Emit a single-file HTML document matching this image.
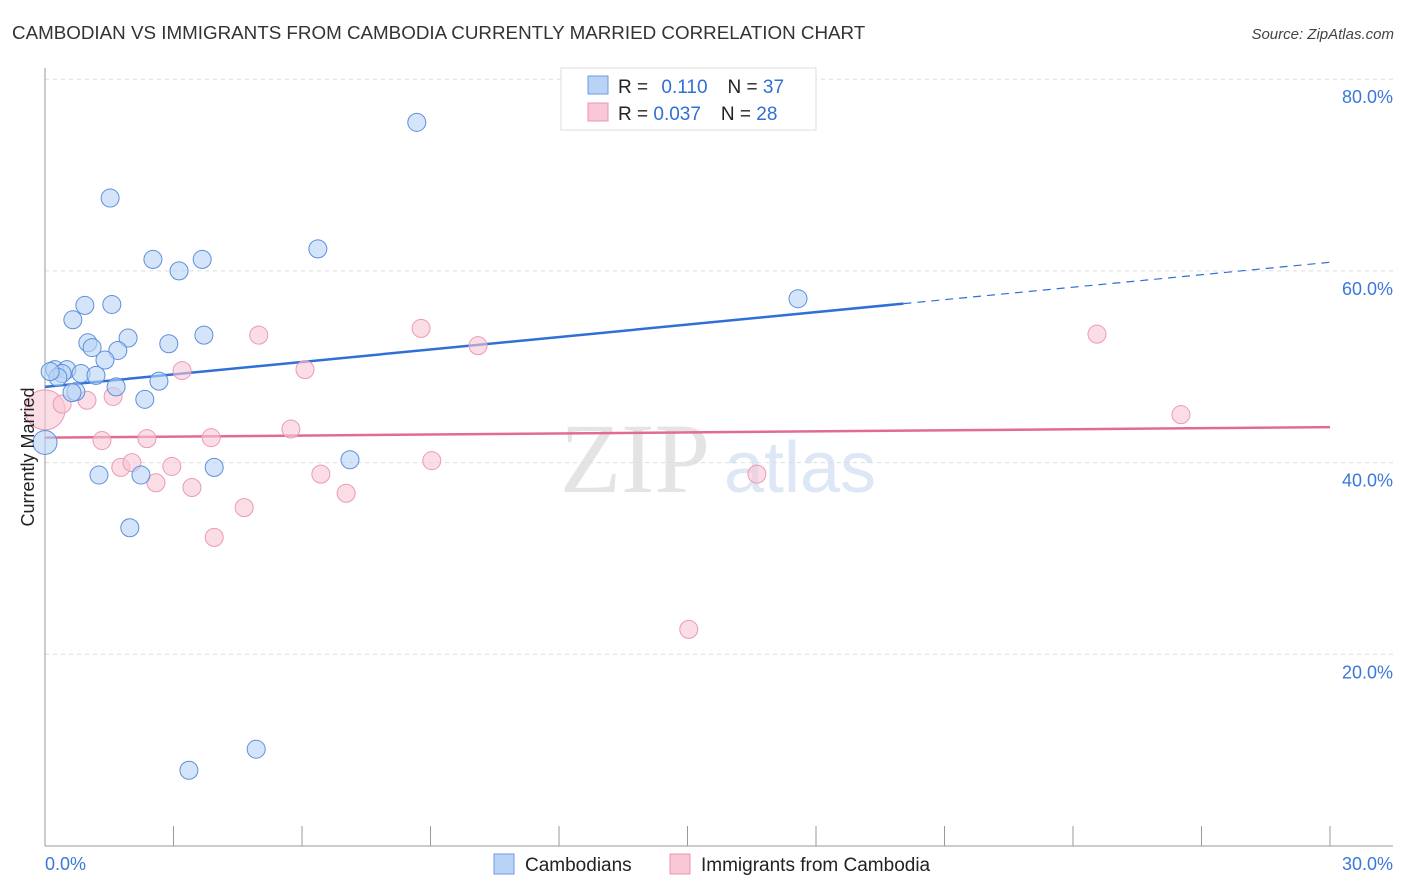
<!DOCTYPE html>
<html><head><meta charset="utf-8"><style>
body{margin:0;background:#fff;font-family:"Liberation Sans",sans-serif;}
svg{display:block}
</style></head><body>
<svg id="chart" width="1406" height="892" xmlns="http://www.w3.org/2000/svg">
<text x="12" y="39" font-size="18.8" fill="#333">CAMBODIAN VS IMMIGRANTS FROM CAMBODIA CURRENTLY MARRIED CORRELATION CHART</text>
<text x="1394" y="39" font-size="15" fill="#444" font-style="italic" text-anchor="end">Source: ZipAtlas.com</text>
<text x="635" y="492" font-size="100" fill="#e4e4e4" font-family="Liberation Serif" text-anchor="middle">ZIP</text>
<text x="800" y="492" font-size="72" fill="#dde7f5" text-anchor="middle">atlas</text>
<g id="grid"></g><g id="axes"></g><g id="trends"></g><g id="points"></g>
<text transform="translate(34,457) rotate(-90)" font-size="18" fill="#222" text-anchor="middle">Currently Married</text>
<g>
<rect x="561" y="68" width="255" height="62" fill="#fff" stroke="#ddd"/>
<rect x="588" y="76" width="20" height="18" fill="#b8d3f5" stroke="#6f9be0"/>
<text x="618" y="93" font-size="19" fill="#222">R = <tspan fill="#2f6fd6" dx="8">0.110</tspan><tspan dx="20" fill="#222">N = </tspan><tspan fill="#2f6fd6">37</tspan></text>
<rect x="588" y="103" width="20" height="18" fill="#f9c7d6" stroke="#e996b0"/>
<text x="618" y="120" font-size="19" fill="#222">R = <tspan fill="#2f6fd6">0.037</tspan><tspan dx="20" fill="#222">N = </tspan><tspan fill="#2f6fd6">28</tspan></text>
</g>
<g>
<rect x="494" y="854" width="20" height="20" fill="#b8d3f5" stroke="#6f9be0"/>
<text x="525" y="871" font-size="19" fill="#222">Cambodians</text>
<rect x="670" y="854" width="20" height="20" fill="#f9c7d6" stroke="#e996b0"/>
<text x="701" y="871" font-size="19" fill="#222">Immigrants from Cambodia</text>
</g>
</svg>
<script>
const blueX=[8.68,1.52,6.37,2.52,3.67,3.13,17.58,0.93,1.56,0.65,1.94,3.71,2.89,1.00,1.10,1.70,1.40,0.23,0.51,0.40,0.84,0.30,1.19,2.66,1.66,0.72,2.33,0,3.95,7.12,1.26,2.24,1.98,4.93,3.36,0.12,0.63];
const blueY=[75.5,67.6,62.3,61.2,61.2,60.0,57.1,56.4,56.5,54.9,53.0,53.3,52.4,52.5,52.0,51.7,50.7,49.7,49.7,49.3,49.3,48.9,49.1,48.5,47.9,47.4,46.6,42.1,39.5,40.3,38.7,38.7,33.2,10.1,7.9,49.5,47.3];
const pinkX=[0,0.40,0.98,1.59,3.20,4.99,6.07,8.78,10.11,24.56,26.52,1.33,2.38,3.88,5.74,1.77,2.03,2.96,2.59,3.43,6.44,9.03,7.03,16.62,4.65,3.95,15.03];
const pinkY=[45.5,46.1,46.5,46.9,49.6,53.3,49.7,54.0,52.2,53.4,45.0,42.3,42.5,42.6,43.5,39.5,40.0,39.6,37.9,37.4,38.8,40.2,36.8,38.8,35.3,32.2,22.6];
const yTicks=[20,40,60,80];
const xTicks=[0,3,6,9,12,15,18,21,24,27,30];
const blueTrend=[47.9,60.9];
const pinkTrend=[42.6,43.7];
const NS="http://www.w3.org/2000/svg";
const X=v=>45+v/30*1285, Y=v=>846-v/20*191.7;
function mk(tag,attrs,parent){const e=document.createElementNS(NS,tag);for(const k in attrs)e.setAttribute(k,attrs[k]);parent.appendChild(e);return e;}
const grid=document.getElementById('grid'),axes=document.getElementById('axes'),trends=document.getElementById('trends'),pts=document.getElementById('points');
yTicks.forEach(t=>{
 const l=mk('line',{x1:45,x2:1393,y1:Y(t),y2:Y(t),stroke:'#ddd','stroke-dasharray':'4,4'},grid);
 
 
 const tx=mk('text',{x:1393,y:Y(t)+24,'font-size':18,fill:'#3a78d8','text-anchor':'end'},grid);
 tx.textContent=t.toFixed(1)+'%';
 
 
});
const yl=mk('line',{x1:45,x2:45,y1:68,y2:846,stroke:'#999'},axes);


const xl=mk('line',{x1:45,x2:1393,y1:846,y2:846,stroke:'#999'},axes);


xTicks.forEach(t=>{
 const l=mk('line',{x1:X(t),x2:X(t),y1:826,y2:846,stroke:'#999'},axes);
 
 
});
[[0,'start'],[30,'end']].forEach(([t,a])=>{
 const tx=mk('text',{x:t===0?45:1393,y:870,'font-size':18,fill:'#3a78d8','text-anchor':a},axes);
 tx.textContent=t.toFixed(1)+'%';
 
 
});
const bx=20.04, by=blueTrend[0]+(blueTrend[1]-blueTrend[0])*bx/30;
const b1=mk('line',{x1:X(0),y1:Y(blueTrend[0]),x2:X(bx),y2:Y(by),stroke:'#2f6fd6','stroke-width':2.5},trends);


const b2=mk('line',{x1:X(bx),y1:Y(by),x2:X(30),y2:Y(blueTrend[1]),stroke:'#2f6fd6','stroke-width':1.2,'stroke-dasharray':'8,6'},trends);


const p1=mk('line',{x1:X(0),y1:Y(pinkTrend[0]),x2:X(30),y2:Y(pinkTrend[1]),stroke:'#e26b96','stroke-width':2.5},trends);


pinkX.forEach((x,i)=>{
 const c=mk('circle',{cx:X(x),cy:Y(pinkY[i]),r:(x===0?20:9),fill:'#f9c7d6','fill-opacity':0.6,stroke:'#ec9ab4','stroke-width':1},pts);
 
 
});
blueX.forEach((x,i)=>{
 const c=mk('circle',{cx:X(x),cy:Y(blueY[i]),r:(x===0?12:9),fill:'#b8d3f5','fill-opacity':0.6,stroke:'#5f8fdc','stroke-width':1},pts);
 
 
});
</script>
</body></html>
